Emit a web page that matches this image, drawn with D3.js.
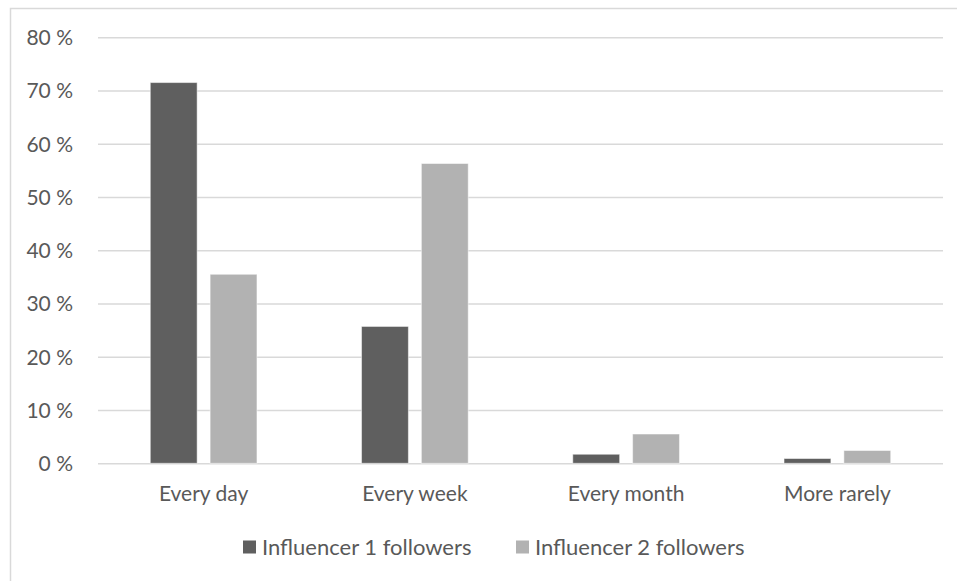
<!DOCTYPE html>
<html>
<head>
<meta charset="utf-8">
<script src="https://cdn.jsdelivr.net/npm/d3@7"></script>
<style>
  html, body { margin: 0; padding: 0; background: #fff; }
  svg { display: block; }
  text { font-family: Lato, "Open Sans", sans-serif; fill: #595959; }
</style>
</head>
<body>
<svg id="chart" width="957" height="581"></svg>
<script>
// Frequency categories along the x axis
const categories = ["Every day", "Every week", "Every month", "More rarely"];
// Share of respondents per category (percent)
const influencer1 = [71.5, 25.7, 1.7, 0.9];
const influencer2 = [35.5, 56.3, 5.5, 2.4];
const seriesNames = ["Influencer 1 followers", "Influencer 2 followers"];
const seriesColors = ["#5f5f5f", "#b2b2b2"];
const yTicks = [0, 10, 20, 30, 40, 50, 60, 70, 80];

const svg = d3.select("#chart");
const W = 957, H = 581;

// outer chart frame (top and left edges visible)
svg.append("path")
  .attr("d", `M10.5,${H} V8.5 H${W}`)
  .attr("fill", "none")
  .attr("stroke", "#d9d9d9")
  .attr("stroke-width", 1.5);

const plot = { left: 98, right: 943, top: 37.3, bottom: 463.3 };

const y = d3.scaleLinear().domain([0, 80]).range([plot.bottom, plot.top]);
const x = d3.scaleBand().domain(categories).range([plot.left, plot.right])
  .paddingInner(0.495).paddingOuter(0.2475);
const xs = d3.scaleBand().domain(seriesNames).range([0, x.bandwidth()])
  .paddingInner(0.217).paddingOuter(0);

// gridlines and value labels
const yAxis = d3.axisLeft(y).tickValues(yTicks)
  .tickSize(-(plot.right - plot.left))
  .tickPadding(25)
  .tickFormat(d => d + " %");
const gy = svg.append("g").attr("transform", `translate(${plot.left},0)`).call(yAxis);
gy.select(".domain").remove();
gy.selectAll(".tick line").attr("stroke", "#d9d9d9").attr("stroke-width", 1.5);
gy.selectAll(".tick text").attr("font-size", 21).attr("fill", "#595959").attr("x", -25).attr("dy", "0.35em");

// bars
const rows = categories.map((c, i) => ({ cat: c, vals: [influencer1[i], influencer2[i]] }));
const groups = svg.append("g").selectAll("g").data(rows).join("g")
  .attr("transform", d => `translate(${x(d.cat)},0)`);
groups.selectAll("rect")
  .data(d => d.vals.map((v, j) => ({ v, s: seriesNames[j], c: seriesColors[j] })))
  .join("rect")
  .attr("x", d => xs(d.s))
  .attr("width", xs.bandwidth())
  .attr("y", d => y(d.v))
  .attr("height", d => y(0) - y(d.v))
  .attr("fill", d => d.c)
  .attr("stroke", "#ffffff")
  .attr("stroke-opacity", 0.5)
  .attr("stroke-width", 1);

// category labels
const xAxis = d3.axisBottom(x).tickSize(0).tickPadding(23);
const gx = svg.append("g").attr("transform", `translate(0,${plot.bottom})`).call(xAxis);
gx.select(".domain").remove();
gx.selectAll(".tick text").attr("font-size", 21).attr("fill", "#595959");

// legend
const legend = svg.append("g").attr("transform", "translate(243,547)");
const items = legend.selectAll("g").data(seriesNames).join("g")
  .attr("transform", (d, i) => `translate(${i * 273},0)`);
items.append("rect").attr("x", 0).attr("y", -6.5).attr("width", 13).attr("height", 13)
  .attr("fill", (d, i) => seriesColors[i]);
items.append("text").attr("x", 19).attr("dy", "0.35em").attr("font-size", 22)
  .attr("fill", "#595959").text(d => d);
</script>
</body>
</html>
